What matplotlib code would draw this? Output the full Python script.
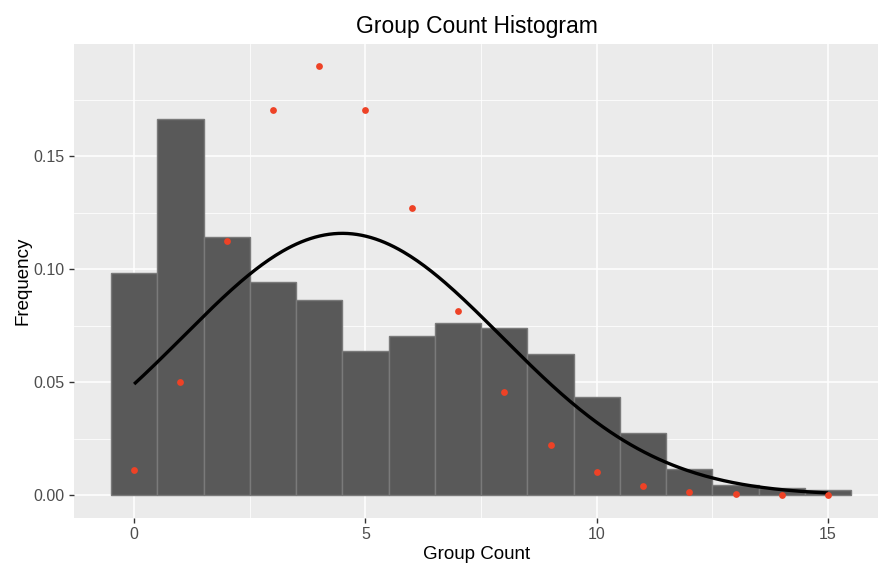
import numpy as np
import matplotlib
matplotlib.use("Agg")
import matplotlib.pyplot as plt

plt.rcParams['font.family'] = ['Liberation Sans', 'DejaVu Sans']

# histogram bins (centres) and density heights
bin_centers = np.arange(0, 16)
bin_heights = [0.0983, 0.1667, 0.1142, 0.0946, 0.0866, 0.0640, 0.0707, 0.0765,
               0.0743, 0.0628, 0.0434, 0.0275, 0.0116, 0.0045, 0.0035, 0.0023]

# red points
point_x = np.arange(0, 16)
point_y = [0.0112, 0.0502, 0.1126, 0.1705, 0.1898, 0.1705, 0.1272, 0.0815,
           0.0456, 0.0225, 0.0102, 0.0042, 0.0016, 0.0006, 0.0002, 0.0001]

# normal curve overlay (peak ~4.5, height ~0.116)
curve_mean = 4.5
curve_sd = 3.44
curve_from, curve_to = 0, 15

fig = plt.figure(figsize=(8.79, 5.64), dpi=100)
ax = fig.add_axes([74 / 879, 46.5 / 564, 1 - 74 / 879, (517.5 - 44) / 564])
ax.set_facecolor('#EBEBEB')

ax.bar(bin_centers, bin_heights, width=1.0, color='#595959',
       edgecolor='#7A7A7A', linewidth=1.0, zorder=2)

xs = np.linspace(curve_from, curve_to, 300)
ys = np.exp(-(xs - curve_mean) ** 2 / (2 * curve_sd ** 2)) / (curve_sd * np.sqrt(2 * np.pi))
ax.plot(xs, ys, color='black', linewidth=2.4, zorder=3, solid_capstyle='butt')

ax.scatter(point_x, point_y, s=24, color='#EE4226', zorder=4, linewidths=0)

ax.set_xlim(-1.3, 16.1)
ax.set_ylim(-0.00975, 0.19975)

ax.set_xticks([0, 5, 10, 15])
ax.set_xticks([2.5, 7.5, 12.5], minor=True)
ax.set_yticks([0.0, 0.05, 0.10, 0.15])
ax.set_yticklabels(['0.00', '0.05', '0.10', '0.15'])
ax.set_yticks([0.025, 0.075, 0.125, 0.175], minor=True)

ax.grid(which='major', color='white', linewidth=1.1, zorder=0)
ax.grid(which='minor', color='white', linewidth=0.55, zorder=0)
ax.set_axisbelow(True)

for s in ax.spines.values():
    s.set_visible(False)

ax.tick_params(which='major', length=3.5, width=1.0, color='#333333',
               labelcolor='#4D4D4D', labelsize=11.5, pad=3)
ax.tick_params(which='minor', length=0)

ax.set_xlabel('Group Count', fontsize=13.5, color='black', labelpad=3)
ax.set_ylabel('Frequency', fontsize=13.5, color='black', labelpad=2)
ax.set_title('Group Count Histogram', fontsize=16.5, color='black', pad=8)

fig.savefig('out.png', dpi=100)
